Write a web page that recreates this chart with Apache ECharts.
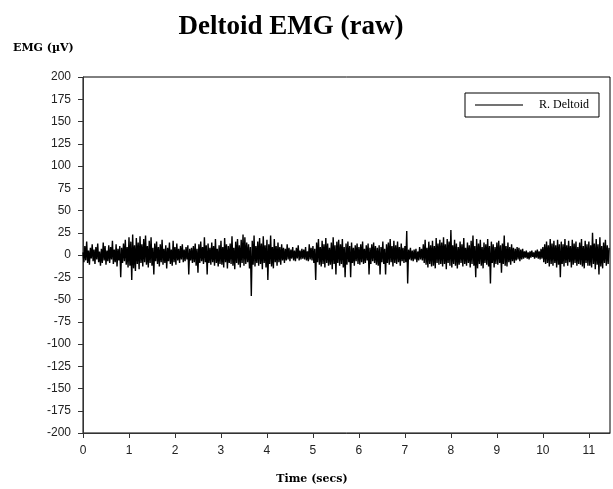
<!DOCTYPE html>
<html>
<head>
<meta charset="utf-8">
<script src="https://cdn.jsdelivr.net/npm/echarts@6/dist/echarts.min.js"></script>
<style>html,body{margin:0;padding:0;background:#fff}#c{width:613px;height:489px}</style>
</head>
<body>
<div id="c"></div>
<script>
// Sampling step of the EMG record (seconds)
var sampleStep = 0.02;
// R. Deltoid raw EMG values (µV), one every sampleStep
var deltoid = [
 3,-8,10,-6,15,-9,5,-11,8,-4,
 12,-7,6,-10,9,-5,13,-8,4,-12,
 7,-9,14,-6,10,-11,5,-7,11,-9,
 9,-5,16,-10,6,-8,12,-13,7,-6,
 10,-25,8,-9,13,-7,17,-11,9,-14,
 20,-12,15,-28,23,-15,11,-18,19,-10,
 14,-16,21,-9,12,-13,18,-8,22,-11,
 10,-14,16,-9,20,-12,8,-22,13,-7,
 15,-10,9,-13,12,-8,17,-11,7,-9,
 11,-15,8,-7,14,-10,6,-12,16,-8,
 9,-11,13,-6,7,-9,10,-5,12,-8,
 6,-7,9,-5,11,-22,7,-6,8,-9,
 10,-8,13,-12,7,-20,12,-9,15,-7,
 9,-10,20,-8,11,-22,13,-9,8,-11,
 14,-8,10,-12,18,-9,7,-13,11,-10,
 16,-11,9,-14,19,-8,12,-15,10,-9,
 13,-10,21,-12,8,-16,15,-9,18,-11,
 11,-14,17,-9,23,-12,20,-10,14,-8,
 12,-15,9,-46,16,-11,22,-13,10,-9,
 15,-12,19,-10,13,-16,21,-9,11,-14,
 17,-28,12,-10,22,-13,9,-15,18,-8,
 10,-12,14,-8,9,-11,12,-6,8,-9,
 7,-6,12,-5,8,-7,6,-4,9,-6,
 5,-7,8,-4,11,-6,5,-5,7,-4,
 6,-5,9,-6,4,-7,12,-5,8,-6,
 10,-9,7,-28,14,-8,18,-11,9,-13,
 16,-10,12,-14,19,-9,13,-12,8,-11,
 14,-16,20,-10,11,-22,15,-9,17,-12,
 12,-10,18,-14,9,-25,13,-11,15,-8,
 10,-25,14,-9,8,-12,11,-7,13,-10,
 9,-11,12,-8,15,-10,7,-9,11,-6,
 13,-22,8,-10,12,-7,14,-9,10,-11,
 8,-12,11,-22,9,-8,15,-10,7,-22,
 12,-9,14,-11,18,-8,10,-13,16,-9,
 11,-10,15,-8,9,-12,13,-7,8,-9,
 10,-8,27,-32,6,-5,8,-6,5,-7,
 6,-5,7,-8,4,-6,9,-5,7,-6,
 12,-9,17,-11,8,-14,15,-10,11,-13,
 16,-12,10,-15,19,-9,13,-11,17,-10,
 14,-13,20,-10,12,-16,18,-9,15,-12,
 28,-14,11,-10,17,-12,13,-15,9,-11,
 15,-9,12,-13,19,-10,8,-12,14,-9,
 11,-14,16,-10,22,-12,10,-25,18,-15,
 13,-10,17,-12,9,-15,14,-9,12,-11,
 18,-13,10,-32,15,-9,12,-14,9,-10,
 14,-11,16,-9,11,-20,13,-10,22,-12,
 10,-13,14,-8,9,-11,12,-7,8,-9,
 7,-6,9,-5,8,-7,6,-5,7,-4,
 4,-3,5,-4,3,-5,4,-3,5,-2,
 3,-4,5,-3,6,-4,4,-5,7,-4,
 9,-8,12,-10,15,-9,11,-13,18,-10,
 13,-12,16,-9,11,-14,17,-11,12,-25,
 15,-10,12,-13,18,-9,11,-12,16,-8,
 10,-14,17,-11,13,-9,15,-12,9,-10,
 14,-11,18,-13,10,-15,16,-9,12,-12,
 15,-12,11,-14,25,-10,13,-16,18,-11,
 12,-22,20,-13,10,-15,14,-9,17,-12,
 11,-10,8
];
var xTicks = [0,1,2,3,4,5,6,7,8,9,10,11];
var yMin = -200, yMax = 200, yStep = 25;
var xMax = 11.46;

var points = deltoid.map(function (v, i) { return [+(i * sampleStep).toFixed(2), v]; });

var chart = echarts.init(document.getElementById('c'), null, {renderer: 'canvas'});
chart.setOption({
  animation: false,
  backgroundColor: '#fff',
  grid: {left: 83, top: 77, right: 3, bottom: 56, show: true, borderColor: '#000', borderWidth: 1, backgroundColor: 'transparent'},
  title: {
    text: 'Deltoid EMG (raw)', left: 286, top: 9, textAlign: 'center',
    textStyle: {fontFamily: 'Liberation Serif', fontWeight: 'bold', fontSize: 27, color: '#000'}
  },
  graphic: [
    {type: 'text', left: 13, top: 43, style: {text: 'EMG (\u00b5V)', font: 'bold 11px "DejaVu Serif"', fill: '#000'}},
    {type: 'text', x: 312, y: 479, style: {text: 'Time (secs)', font: 'bold 11px "DejaVu Serif"', fill: '#000', align: 'center', verticalAlign: 'middle'}}
  ],
  legend: {
    left: 465, top: 93, orient: 'vertical',
    padding: [6, 10, 6, 10],
    itemWidth: 48, itemHeight: 15,
    backgroundColor: '#fff', borderColor: '#000', borderWidth: 1,
    textStyle: {fontFamily: 'Liberation Serif', fontSize: 12, color: '#000', padding: [0, 0, 0, 11]},
    data: [{name: 'R. Deltoid', icon: 'path://M0,0L48,0L48,1.5L0,1.5Z'}],
    itemStyle: {color: '#444'}
  },
  xAxis: {
    type: 'value', min: 0, max: xMax, interval: 1,
    axisLine: {onZero: false, lineStyle: {color: '#333', width: 1}},
    axisTick: {show: true, length: 5, lineStyle: {color: '#333'}, customValues: xTicks},
    axisLabel: {customValues: xTicks, margin: 12, fontFamily: 'Liberation Sans', fontSize: 12, color: '#222'},
    splitLine: {show: false}
  },
  yAxis: {
    type: 'value', min: yMin, max: yMax, interval: yStep,
    axisLine: {show: true, lineStyle: {color: '#333', width: 1}},
    axisTick: {show: true, length: 5, lineStyle: {color: '#333'}},
    axisLabel: {margin: 12, fontFamily: 'Liberation Sans', fontSize: 12, color: '#222'},
    splitLine: {show: false}
  },
  series: [{
    name: 'R. Deltoid', type: 'line', data: points,
    symbol: 'none', showSymbol: false,
    lineStyle: {color: '#000', width: 1.4},
    itemStyle: {color: '#000'},
    sampling: null
  }]
});
</script>
</body>
</html>
